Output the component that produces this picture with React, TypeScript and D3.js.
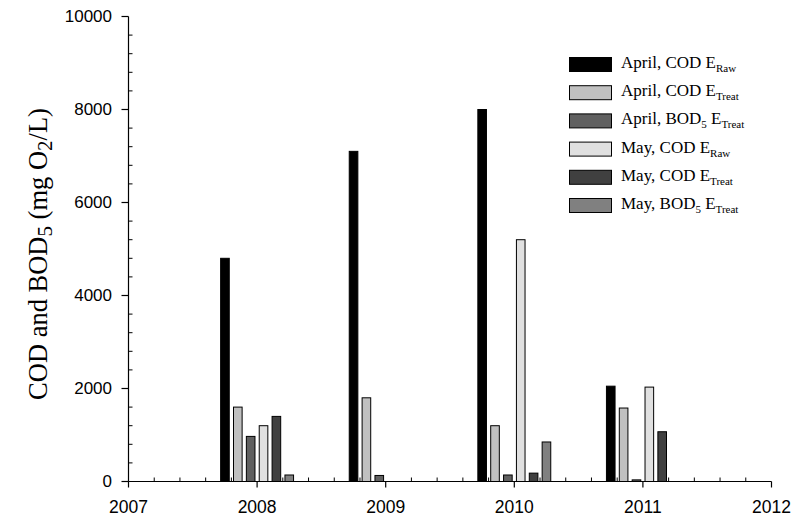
import React from "react";
import * as d3 from "d3";

// Sampling years and the six measured series (mg O2/L)
const years = [2008, 2009, 2010, 2011];
const aprilCodRaw: (number | null)[] = [4800, 7100, 8000, 2050];
const aprilCodTreat: (number | null)[] = [1600, 1800, 1200, 1580];
const aprilBodTreat: (number | null)[] = [970, 130, 140, 35];
const mayCodRaw: (number | null)[] = [1200, null, 5200, 2030];
const mayCodTreat: (number | null)[] = [1400, null, 180, 1070];
const mayBodTreat: (number | null)[] = [140, null, 850, null];

const seriesNames = [
  { month: "April", param: "COD", sub5: false, idx: "Raw" },
  { month: "April", param: "COD", sub5: false, idx: "Treat" },
  { month: "April", param: "BOD", sub5: true, idx: "Treat" },
  { month: "May", param: "COD", sub5: false, idx: "Raw" },
  { month: "May", param: "COD", sub5: false, idx: "Treat" },
  { month: "May", param: "BOD", sub5: true, idx: "Treat" },
];
const seriesValues = [aprilCodRaw, aprilCodTreat, aprilBodTreat, mayCodRaw, mayCodTreat, mayBodTreat];
const seriesFills = ["#000000", "#c0c0c0", "#606060", "#e0e0e0", "#404040", "#808080"];

const xTicks = [2007, 2008, 2009, 2010, 2011, 2012];
const yTicks = [0, 2000, 4000, 6000, 8000, 10000];

const W = 794;
const H = 516;
const left = 128.5;
const right = 771.5;
const top = 16.5;
const bottom = 481.5;

const serif = "'Liberation Serif', 'Times New Roman', serif";
const sans = "'Liberation Sans', Arial, sans-serif";

export default function App() {
  const x = d3.scaleLinear().domain([2007, 2012]).range([left, right]);
  const y = d3.scaleLinear().domain([0, 10000]).range([bottom, top]);

  const offsets = [-0.25, -0.15, -0.05, 0.05, 0.15, 0.25];
  const barW = x(2007 + 0.067) - x(2007);

  const xMinor = d3.range(2007, 2012.001, 0.2).filter((v) => Math.abs(v - Math.round(v)) > 0.01);
  const yMinor = d3.range(0, 10001, 400).filter((v) => v % 2000 !== 0);

  const legendX = 569.5;
  const legendY0 = 57.5;
  const legendStep = 28.2;

  return (
    <svg width={W} height={H} style={{ position: "absolute", left: 0, top: 0, background: "#fff" }}>
      {/* bars */}
      {seriesValues.map((vals, si) =>
        vals.map((v, yi) =>
          v == null ? null : (
            <rect
              key={`b-${si}-${yi}`}
              x={x(years[yi] + offsets[si]) - barW / 2}
              y={y(v)}
              width={barW}
              height={y(0) - y(v)}
              fill={seriesFills[si]}
              stroke="#000"
              strokeWidth={1}
            />
          )
        )
      )}

      {/* axes */}
      <line x1={left} x2={left} y1={top} y2={bottom} stroke="#000" strokeWidth={1.2} />
      <line x1={left} x2={right} y1={bottom} y2={bottom} stroke="#000" strokeWidth={1.2} />

      {yTicks.map((t) => (
        <g key={`yt-${t}`}>
          <line x1={left - 7} x2={left} y1={y(t)} y2={y(t)} stroke="#000" strokeWidth={1.2} />
          <text
            x={112}
            y={y(t)}
            dy="0.35em"
            textAnchor="end"
            fontFamily={sans}
            fontSize={17}
            fill="#000"
          >
            {t}
          </text>
        </g>
      ))}
      {yMinor.map((t) => (
        <line key={`ym-${t}`} x1={left} x2={left + 4} y1={y(t)} y2={y(t)} stroke="#000" strokeWidth={1} />
      ))}

      {xTicks.map((t) => (
        <g key={`xt-${t}`}>
          <line x1={x(t)} x2={x(t)} y1={bottom} y2={bottom + 6} stroke="#000" strokeWidth={1.2} />
          <text x={x(t)} y={513} textAnchor="middle" fontFamily={sans} fontSize={17.5} fill="#000">
            {t}
          </text>
        </g>
      ))}
      {xMinor.map((t, i) => (
        <line key={`xm-${i}`} x1={x(t)} x2={x(t)} y1={bottom} y2={bottom - 4} stroke="#000" strokeWidth={1} />
      ))}

      {/* y-axis title */}
      <text
        transform={`translate(47, 254) rotate(-90)`}
        textAnchor="middle"
        fontFamily={serif}
        fontSize={26.5}
        fill="#000"
      >
        COD and BOD
        <tspan fontSize={21} dy={5}>5</tspan>
        <tspan dy={-5}> (mg O</tspan>
        <tspan fontSize={21} dy={5}>2</tspan>
        <tspan dy={-5}>/L)</tspan>
      </text>

      {/* legend */}
      {seriesNames.map((s, i) => {
        const yy = legendY0 + i * legendStep;
        return (
          <g key={`lg-${i}`}>
            <rect x={legendX} y={yy} width={42} height={14} fill={seriesFills[i]} stroke="#000" strokeWidth={1} />
            <text x={621} y={yy + 10.5} fontFamily={serif} fontSize={17} fill="#000">
              {s.month}, {s.param}
              {s.sub5 ? (
                <>
                  <tspan fontSize={11} dy={4}>5</tspan>
                  <tspan dy={-4}> E</tspan>
                </>
              ) : (
                <tspan> E</tspan>
              )}
              <tspan fontSize={11} dy={4}>{s.idx}</tspan>
            </text>
          </g>
        );
      })}
    </svg>
  );
}
